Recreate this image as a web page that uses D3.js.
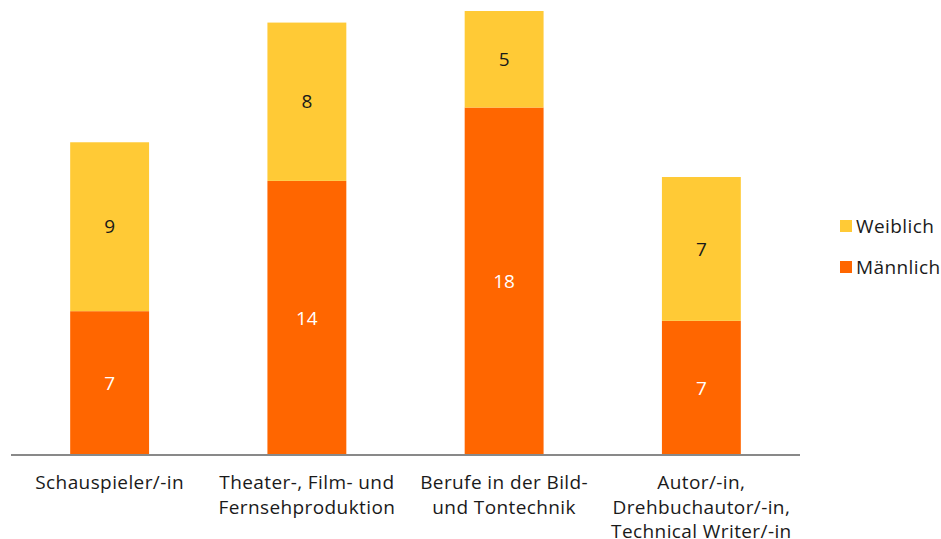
<!DOCTYPE html>
<html>
<head>
<meta charset="utf-8">
<script src="https://cdn.jsdelivr.net/npm/d3@7"></script>
<style>
  body { margin: 0; background: #fff; }
  text { font-family: "Open Sans", "Noto Sans", sans-serif; }
</style>
</head>
<body>
<svg id="chart" width="941" height="539"></svg>
<script>
// Categories (line-broken as in the picture)
const categories = [
  ['Schauspieler/-in'],
  ['Theater-, Film- und', 'Fernsehproduktion'],
  ['Berufe in der Bild-', 'und Tontechnik'],
  ['Autor/-in,', 'Drehbuchautor/-in,', 'Technical Writer/-in']
];
// Values; labels shown rounded
const maennlich = [7.45, 14.2, 18.0, 6.95];
const weiblich = [8.75, 8.2, 5.0, 7.45];
const seriesNames = ['Männlich', 'Weiblich'];
const colors = { 'Männlich': '#ff6600', 'Weiblich': '#ffca36' };

const svg = d3.select('#chart');

// Scales
const x = d3.scaleBand()
  .domain(d3.range(categories.length))
  .range([11, 800])
  .paddingInner(0.6)
  .paddingOuter(0.3);

const y = d3.scaleLinear()
  .domain([0, 23])
  .range([455, 11]);

// Stack the two series
const rows = categories.map((c, i) => ({ i, 'Männlich': maennlich[i], 'Weiblich': weiblich[i] }));
const stacked = d3.stack().keys(seriesNames)(rows);

const layers = svg.selectAll('g.layer')
  .data(stacked)
  .enter()
  .append('g')
  .attr('class', 'layer')
  .attr('fill', d => colors[d.key]);

layers.selectAll('rect')
  .data(d => d)
  .enter()
  .append('rect')
  .attr('x', d => x(d.data.i))
  .attr('width', x.bandwidth())
  .attr('y', d => y(d[1]))
  .attr('height', d => y(d[0]) - y(d[1]));

// Value labels in the middle of each segment
layers.each(function(layer) {
  d3.select(this).selectAll('text')
    .data(layer)
    .enter()
    .append('text')
    .attr('x', d => x(d.data.i) + x.bandwidth() / 2)
    .attr('y', d => (y(d[0]) + y(d[1])) / 2)
    .attr('dy', '0.35em')
    .attr('text-anchor', 'middle')
    .attr('font-size', 19)
    .attr('fill', layer.key === 'Männlich' ? '#ffffff' : '#1a1a1a')
    .text(d => d3.format('.0f')(d[1] - d[0]));
});

// Baseline axis
const xAxis = d3.axisBottom(x).tickSize(0).tickFormat('');
const axisG = svg.append('g')
  .attr('transform', `translate(0,${y(0)})`)
  .call(xAxis);
axisG.select('.domain')
  .attr('stroke', '#898989')
  .attr('stroke-width', 2)
  .attr('d', 'M11,0H800');

// Category labels
svg.append('g')
  .selectAll('text')
  .data(categories)
  .enter()
  .append('text')
  .attr('text-anchor', 'middle')
  .attr('font-size', 19)
  .attr('letter-spacing', 0.4)
  .attr('fill', '#1a1a1a')
  .attr('transform', (d, i) => `translate(${x(i) + x.bandwidth() / 2},489)`)
  .each(function(lines) {
    d3.select(this).selectAll('tspan')
      .data(lines)
      .enter()
      .append('tspan')
      .attr('x', 0)
      .attr('y', (l, j) => j * 24.5)
      .text(l => l);
  });

// Legend
const legend = svg.append('g').attr('transform', 'translate(840,220)');
const legendItems = legend.selectAll('g')
  .data(['Weiblich', 'Männlich'])
  .enter()
  .append('g')
  .attr('transform', (d, i) => `translate(0,${i * 41})`);
legendItems.append('rect')
  .attr('width', 12)
  .attr('height', 12)
  .attr('fill', d => colors[d]);
legendItems.append('text')
  .attr('x', 16)
  .attr('y', 6)
  .attr('dy', '0.35em')
  .attr('font-size', 19)
  .attr('letter-spacing', 0.4)
  .attr('fill', '#1a1a1a')
  .text(d => d);
</script>
</body>
</html>
